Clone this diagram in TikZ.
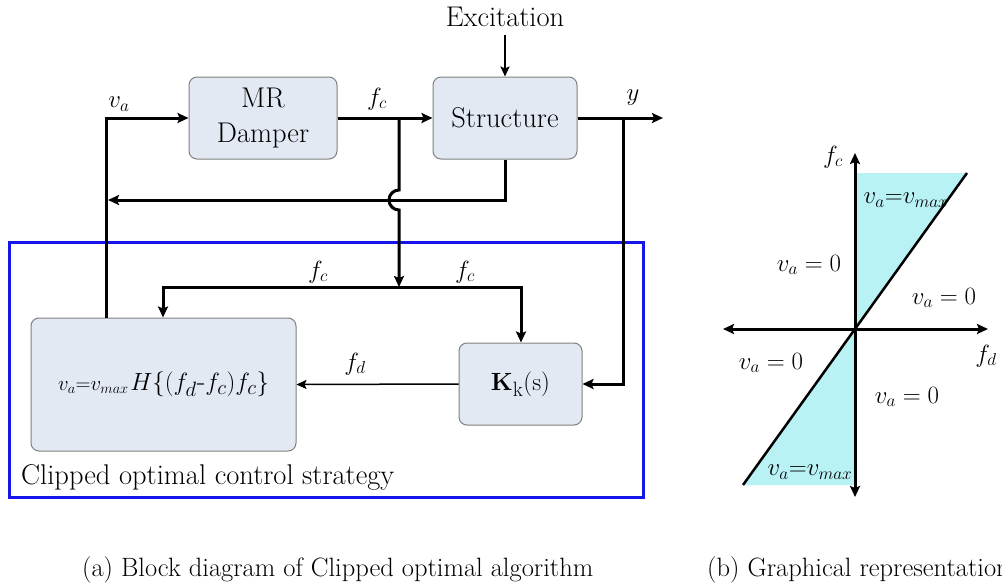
\documentclass[tikz,border=0pt]{standalone}
\usetikzlibrary{arrows.meta,calc}
\definecolor{boxfill}{RGB}{226,233,243}
\definecolor{boxline}{RGB}{128,128,128}
\definecolor{frameblue}{RGB}{20,20,235}
\definecolor{zonefill}{RGB}{185,242,245}
\newcommand{\fsz}[2]{\fontsize{#1}{#2}\selectfont}
\tikzset{
  block/.style={draw=boxline, line width=1pt, fill=boxfill, rounded corners=8pt,
                align=center, inner sep=0pt},
  tip/.style={-{Stealth[length=11pt,width=10pt,inset=2pt]}},
  wire/.style={line width=3pt, line join=miter},
  conn/.style={wire, tip},
  thinconn/.style={line width=1.5pt, -{Stealth[length=10pt,width=9pt,inset=2pt]}},
  lbl/.style={inner sep=0pt, font=\fsz{27}{31}},
  zone/.style={inner sep=0pt, font=\fsz{25}{29}},
  txt/.style={inner sep=0pt, font=\fsz{28.5}{35}},
}
\begin{document}
\begin{tikzpicture}[x=1pt, y=-1pt]
\fill[white] (0,0) rectangle (1002,584);
\useasboundingbox (0,0) rectangle (1002,584);

% ---------- (a) block diagram ----------
\node[txt] (exc) at (505,17) {Excitation};
\node[block, txt, minimum width=148pt, minimum height=82pt] (mr) at (263,118) {MR\\Damper};
\node[block, txt, minimum width=144pt, minimum height=82pt] (str) at (505,118) {Structure};

\node[block, minimum width=265pt, minimum height=133pt] (big) at (163.5,384.5)
  {{\fsz{22}{26}$v_a{=}v_{max}$}\,{\fsz{28}{32}$H\{(f_d$-$f_c)f_c\}$}};
\node[block, minimum width=123pt, minimum height=82pt] (kb) at (520.5,384)
  {\fsz{29}{33}$\mathbf{K}_{\mathrm{k}}(\mathrm{s})$};

\draw[line width=3pt, frameblue] (9,242) rectangle (643,497);
\node[txt, anchor=west] (cap) at (21,477) {Clipped optimal control strategy};

% junctions and bends
\coordinate (exctail) at (505,35);
\coordinate (vacorner) at (106,118);
\coordinate (jfc) at (399,118);
\coordinate (jy) at (623,118);
\coordinate (yout) at (663,118);
\coordinate (fbk) at (505,200);
\coordinate (fbkend) at (108,200);
\coordinate (split) at (399,287);
\coordinate (bx) at (163,287);
\coordinate (kx) at (521,287);

% excitation input
\draw[line width=2pt, -{Stealth[length=10pt,width=9pt,inset=2pt]}] (exctail) -- (exctail |- str.north);
% forward path
\draw[conn] (vacorner |- big.north) -- (vacorner) -- (mr.west);
\draw[conn] (mr.east) -- (str.west);
\draw[conn] (str.east) -- (yout);
% structure feedback
\draw[conn] (fbk |- str.south) -- (fbk) -- (fbkend);
% measured force, hopping over the feedback line
\draw[conn] (jfc) -- ($(jfc |- fbk)+(0,-10)$)
  arc[start angle=-90, end angle=-270, radius=10] -- (split);
\draw[conn] (split) -- (bx) -- (bx |- big.north);
\draw[conn] (split) -- (kx) -- (kx |- kb.north);
% measured response
\draw[conn] (jy) -- (jy |- kb.east) -- (kb.east);
% desired force
\draw[thinconn] (kb.west) -- (big.east);

% signal labels
\node[lbl] (lva) at (119,104) {$v_a$};
\node[lbl] (lfc1) at (377,99) {$f_c$};
\node[lbl] (ly) at (633,98) {$y$};
\node[lbl] (lfc2) at (318,272) {$f_c$};
\node[lbl] (lfc3) at (465,272) {$f_c$};
\node[lbl] (lfd) at (355,364) {$f_d$};

% ---------- (b) clipping law ----------
\coordinate (O) at (855,329);
\fill[zonefill] (O) -- (855,173) -- (967,173) -- cycle;
\fill[zonefill] (O) -- (855,485) -- (743,485) -- cycle;
\draw[line width=2.5pt] (743,485) -- (967,173);
\draw[wire, {Stealth[length=11pt,width=10pt,inset=2pt]}-{Stealth[length=11pt,width=10pt,inset=2pt]}] (855,497) -- (855,153);
\draw[wire, {Stealth[length=11pt,width=10pt,inset=2pt]}-{Stealth[length=11pt,width=10pt,inset=2pt]}] (723,329) -- (988,329);

\node[lbl] (afc) at (833,157) {$f_c$};
\node[lbl] (afd) at (986,356) {$f_d$};
\node[zone] (z1) at (906,200) {$v_a{=}v_{max}$};
\node[zone] (z2) at (809,265) {$v_a = 0$};
\node[zone] (z3) at (944,298) {$v_a = 0$};
\node[zone] (z4) at (771,363) {$v_a = 0$};
\node[zone] (z5) at (907,397) {$v_a = 0$};
\node[zone] (z6) at (810,472) {$v_a{=}v_{max}$};

% ---------- captions ----------
\node[inner sep=0pt, anchor=base west, font=\fsz{26.5}{30}] (capa) at (82,576)
  {(a) Block diagram of Clipped optimal algorithm};
\node[inner sep=0pt, anchor=base west, font=\fsz{26.5}{30}] (capb) at (707,576)
  {(b) Graphical representation};
\end{tikzpicture}
\end{document}
